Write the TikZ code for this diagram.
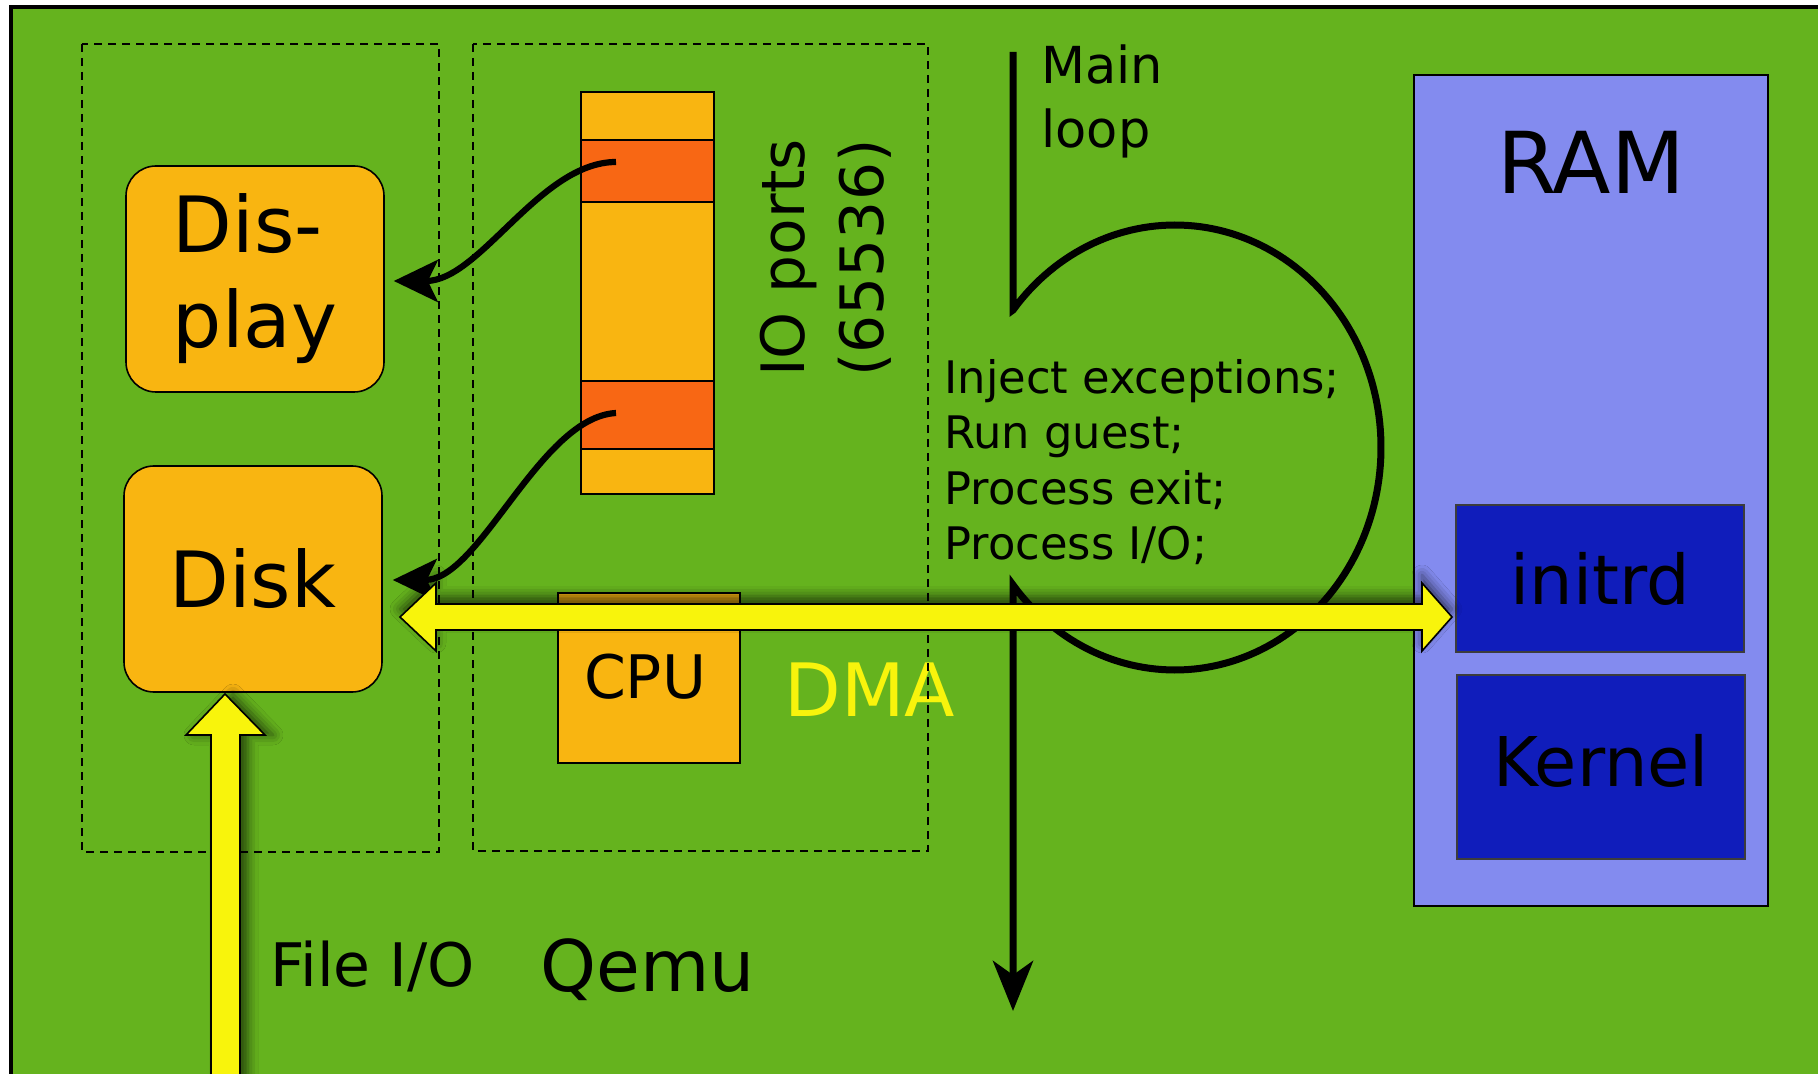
\documentclass[tikz,border=0pt]{standalone}
\usepackage{fontspec}
\setmainfont{DejaVu Sans}
\usetikzlibrary{arrows.meta,shadows.blur}

\definecolor{bggreen}{HTML}{65B31E}
\definecolor{devorange}{HTML}{F9B511}
\definecolor{portred}{HTML}{F86714}
\definecolor{ramviolet}{HTML}{838BEF}
\definecolor{memblue}{HTML}{101DBB}
\definecolor{memedge}{HTML}{3C3C3C}
\definecolor{busyellow}{HTML}{F8F40C}

\tikzset{
  box/.style={draw=black, line width=0.8pt, inner sep=0pt},
  devbox/.style={box, fill=devorange, rounded corners=15pt,
    minimum width=129pt, minimum height=113pt, align=left,
    font=\fontsize{38.8}{47.5}\selectfont},
  portcell/.style={box, fill=portred, minimum width=66.5pt},
  membox/.style={draw=memedge, line width=1pt, fill=memblue, inner sep=0pt,
    minimum width=144pt, font=\fontsize{34.3}{41}\selectfont},
  groupbox/.style={draw=black, line width=0.75pt, dash pattern=on 4pt off 3pt},
  conn/.style={line width=3.1pt, -{Stealth[length=22pt,width=21pt,inset=5pt]}},
  flow/.style={line width=3.5pt, -{Stealth[length=25pt,width=20pt,inset=7pt]}},
  fatarrow/.style={fill=busyellow, draw=black, line width=0.8pt},
  label/.style={inner sep=0pt},
}

\begin{document}
\begin{tikzpicture}[x=0.5pt, y=-0.5pt]
\useasboundingbox (0,0) rectangle (1818,1074);
\clip (0,0) rectangle (1818,1074);
\fill[white] (0,0) rectangle (1818,1074);

% the Qemu process
\draw[line width=2pt, fill=bggreen] (11,7) rectangle (1834,1080);

% devices
\node[devbox] (display) at (255,279) {Dis-\\play};
\node[devbox] (disk) at (253,579) {Disk};

% IO port space
\node[box, fill=devorange, minimum width=66.5pt, minimum height=201pt] (ports) at (647.5,293) {};
\node[portcell, minimum height=31pt] (port1) at (647.5,171) {};
\node[portcell, minimum height=34pt] (port2) at (647.5,415) {};
\node[rotate=90, align=center, label, font=\fontsize{29.9}{39.5}\selectfont] (ioports) at (826,258) {IO ports\\(65536)};

% CPU
\node[box, fill=devorange, minimum width=91pt, minimum height=85pt] (cpu) at (649,678) {};
\node[label, anchor=base, font=\fontsize{30}{36}\selectfont] (cpulabel) at (645,698) {CPU};

% guest memory
\node[draw=black, line width=1pt, fill=ramviolet, minimum width=177pt, minimum height=415.5pt] (ram) at (1591,490.5) {};
\node[label, anchor=base, font=\fontsize{42.7}{50}\selectfont] (ramlabel) at (1591,194) {RAM};
\node[membox, minimum height=73.5pt] (initrd) at (1600,578.5) {initrd};
\node[membox, minimum height=92pt, text depth=6.7pt] (kernel) at (1601,767) {Kernel};

% labels
\node[label, anchor=base west, text=busyellow, font=\fontsize{36.8}{44}\selectfont] (dma) at (784,716) {DMA};
\node[label, anchor=base west, font=\fontsize{30}{36}\selectfont] (fileio) at (270,986) {File I/O};
\node[label, anchor=base west, font=\fontsize{35.6}{42}\selectfont] (qemu) at (540,991) {Qemu};
\node[label, anchor=north west, align=left, font=\fontsize{25.5}{32}\selectfont] (mainloop) at (1041,44) {Main\\loop};
\node[label, anchor=north west, align=left, font=\fontsize{22.4}{27.75}\selectfont] (steps) at (944,359)
  {Inject exceptions;\\Run guest;\\Process exit;\\Process I/O;};

% device groups
\draw[groupbox] (82,44) rectangle (439,852);
\draw[groupbox] (473,44) rectangle (928,851);

% port accesses dispatched to devices
\draw[conn] ([xshift=-15.75pt,yshift=4.5pt]port1.center) .. controls (540,162) and (480,281) .. ([xshift=4.5pt,yshift=-1pt]display.east);
\draw[conn] ([xshift=-15.75pt,yshift=1pt]port2.center) .. controls (540,417) and (480,580) .. ([xshift=5pt,yshift=-0.5pt]disk.east);

% main loop
\coordinate (loopTop) at (1013,52);
\coordinate (loopEnd) at (1013,1011);
\draw[flow] (loopTop) -- (1013,310)
  -- plot[domain=141.8:-141.8, samples=160] ({1175+206*cos(\x)}, {447.5-222.5*sin(\x)})
  -- (loopEnd);

% DMA between disk and guest memory
\coordinate (dmaL) at (400,617);
\coordinate (dmaR) at (1452,617);
\path[fatarrow, blur shadow={shadow xshift=0pt, shadow yshift=4pt, shadow blur radius=5pt, shadow opacity=60}]
  (dmaL) -- (436,583) -- (436,604) -- (1422,604) -- (1422,583) -- (dmaR)
  -- (1422,651) -- (1422,630) -- (436,630) -- (436,651) -- cycle;

% file I/O from the host
\coordinate (fileTip) at (225,694);
\path[fatarrow, blur shadow={shadow xshift=4pt, shadow yshift=0pt, shadow blur radius=5pt, shadow opacity=60}]
  (fileTip) -- (265,735) -- (240,735) -- (240,1090) -- (211,1090) -- (211,735) -- (186,735) -- cycle;
\end{tikzpicture}
\end{document}
